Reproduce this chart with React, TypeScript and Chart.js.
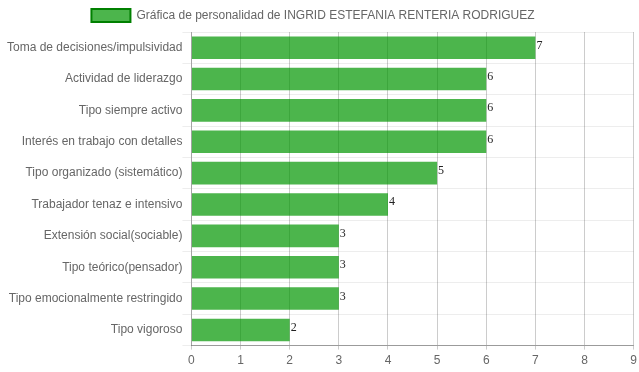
import React, { useEffect, useRef } from "react";
import { Chart, registerables } from "chart.js";

Chart.register(...registerables);

const categories = [
  "Toma de decisiones/impulsividad",
  "Actividad de liderazgo",
  "Tipo siempre activo",
  "Interés en trabajo con detalles",
  "Tipo organizado (sistemático)",
  "Trabajador tenaz e intensivo",
  "Extensión social(sociable)",
  "Tipo teórico(pensador)",
  "Tipo emocionalmente restringido",
  "Tipo vigoroso",
];
const values = [7, 6, 6, 6, 5, 4, 3, 3, 3, 2];
const seriesLabel = "Gráfica de personalidad de INGRID ESTEFANIA RENTERIA RODRIGUEZ";
const xMin = 0;
const xMax = 9;

const valueLabels = {
  id: "valueLabels",
  afterDatasetsDraw(chart: any) {
    const ctx = chart.ctx;
    const meta = chart.getDatasetMeta(0);
    ctx.save();
    ctx.font = "12px 'Liberation Serif', serif";
    ctx.fillStyle = "#222";
    ctx.textAlign = "left";
    ctx.textBaseline = "alphabetic";
    meta.data.forEach((bar: any, i: number) => {
      ctx.fillText(String(values[i]), bar.x + 1, bar.y + 1);
    });
    ctx.restore();
  },
};

const legendShift = {
  id: "legendShift",
  afterLayout(chart: any) {
    const lg = chart.legend;
    if (lg) {
      lg.left -= 11;
      lg.right -= 11;
    }
  },
};

export default function App() {
  const ref = useRef<HTMLCanvasElement>(null);
  useEffect(() => {
    if (!ref.current) return;
    const font = { family: "'Liberation Sans', Arial, sans-serif", size: 12 };
    const chart = new Chart(ref.current, {
      type: "bar",
      data: {
        labels: categories,
        datasets: [
          {
            label: seriesLabel,
            data: values,
            backgroundColor: "rgba(0,150,0,0.7)",
            borderColor: "rgb(0,128,0)",
            borderWidth: 0,
          },
        ],
      },
      options: {
        indexAxis: "y",
        animation: false,
        responsive: false,
        maintainAspectRatio: false,
        layout: { padding: { right: 0, left: 7, top: 0, bottom: 0 } },
        plugins: {
          tooltip: { enabled: false },
          legend: {
            labels: {
              color: "#666",
              font,
              boxWidth: 39,
              boxHeight: 13,
              padding: 9,
              generateLabels: (c: any) => [
                {
                  text: seriesLabel,
                  fillStyle: "rgba(0,150,0,0.7)",
                  strokeStyle: "rgb(0,128,0)",
                  lineWidth: 2,
                  hidden: false,
                  datasetIndex: 0,
                  fontColor: "#666",
                },
              ],
            },
          },
        },
        scales: {
          x: {
            min: xMin,
            max: xMax,
            ticks: { stepSize: 1, color: "#666", font, padding: 4 },
            grid: { color: "rgba(0,0,0,0.2)", tickLength: 4 },
            border: { color: "rgba(0,0,0,0.35)" },
          },
          y: {
            ticks: { color: "#666", font, padding: 0 },
            grid: { color: "rgba(0,0,0,0.07)", tickLength: 9 },
            border: { color: "rgba(0,0,0,0.2)" },
          },
        },
      },
      plugins: [valueLabels, legendShift],
    } as any);
    return () => chart.destroy();
  }, []);
  return (
    <div style={{ position: "fixed", left: 0, top: 0, width: 639, height: 372, overflow: "hidden" }}>
      <canvas ref={ref} width={641} height={372} style={{ display: "block" }} />
    </div>
  );
}
